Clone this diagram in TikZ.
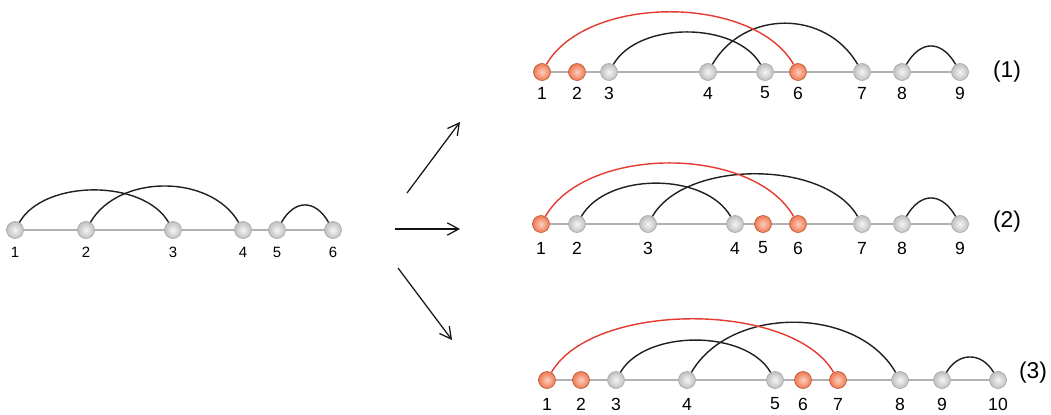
\documentclass[tikz,border=0pt]{standalone}
\usepackage{fontspec}
\setmainfont{Liberation Sans}
\usetikzlibrary{arrows.meta}
\definecolor{hot}{RGB}{240,120,78}
\definecolor{hotarc}{RGB}{228,58,48}
\tikzset{
  site/.style={circle,inner sep=0pt,minimum size=0.34cm,shading=radial,inner color=gray!8,outer color=gray!50,draw=gray!70,line width=0.35pt},
  hotsite/.style={site,inner color=hot!35!white,outer color=hot,draw=hot!75!black},
  spine/.style={gray!60,line width=0.75pt},
  bond/.style={gray!25!black,line width=0.8pt,out=60,in=120,looseness=#1},
  hotbond/.style={bond=#1,draw=hotarc},
  num/.style={inner sep=0pt,font=\fontsize{10}{12}\selectfont},
  tag/.style={inner sep=0pt,font=\fontsize{13}{15}\selectfont},
}

\begin{document}
\begin{tikzpicture}[x=0.02cm,y=0.02cm,>={Straight Barb[length=6.5pt,width=7pt]}]
  \useasboundingbox (0,0) rectangle (1051,414);
  % original structure
  \foreach \x [count=\i] in {15,86,173,243,277,333}{
    \node[site] (l\i) at (\x,184) {};
    \node[num,font=\fontsize{8.5}{10}\selectfont] (l\i n) at (\x,162) {\i};
  }
  \foreach \i/\j in {1/2,2/3,3/4,4/5,5/6} \draw[spine] (l\i) -- (l\j);
  \draw[bond=0.86] (l1) to (l3);
  \draw[bond=0.97] (l2) to (l4);
  \draw[bond=1.46] (l5) to (l6);

  \coordinate (s1) at (407,221); \coordinate (t1) at (460,292);
  \coordinate (s2) at (395,185); \coordinate (t2) at (460,185);
  \coordinate (s3) at (398,146); \coordinate (t3) at (452,74);
  \foreach \k in {1,2,3} \draw[->,line width=0.7pt,gray!15!black] (s\k) -- (t\k);

  % (1)
  \foreach \x/\s [count=\i] in {542/hotsite,577/hotsite,609/site,708/site,765/site,798/hotsite,862/site,902/site,960/site}{
    \node[\s] (a\i) at (\x,342) {};
    \node[num] (a\i n) at (\x,321) {\i};
  }
  \foreach \i/\j in {1/2,2/3,3/4,4/5,5/6,6/7,7/8,8/9} \draw[spine] (a\i) -- (a\j);
  \draw[bond=0.87] (a3) to (a5);
  \draw[bond=1.12] (a4) to (a7);
  \draw[bond=1.48] (a8) to (a9);
  \draw[hotbond=0.84] (a1) to (a6);
  \node[tag] (ta) at (1007,342) {(1)};

  % (2)
  \foreach \x/\s [count=\i] in {541/hotsite,577/site,648/site,735/site,763/hotsite,798/hotsite,862/site,902/site,960/site}{
    \node[\s] (b\i) at (\x,190) {};
    \node[num] (b\i n) at (\x,166) {\i};
  }
  \foreach \i/\j in {1/2,2/3,3/4,4/5,5/6,6/7,7/8,8/9} \draw[spine] (b\i) -- (b\j);
  \draw[bond=0.88] (b2) to (b4);
  \draw[bond=0.82] (b3) to (b7);
  \draw[bond=1.48] (b8) to (b9);
  \draw[hotbond=0.85] (b1) to (b6);
  \node[tag] (tb) at (1007,192) {(2)};

  % (3)
  \foreach \x/\s [count=\i] in {547/hotsite,581/hotsite,616/site,687/site,775/site,803/hotsite,838/hotsite,900/site,942/site,998/site}{
    \node[\s] (c\i) at (\x,34) {};
    \node[num] (c\i n) at (\x,10) {\i};
  }
  \foreach \i/\j in {1/2,2/3,3/4,4/5,5/6,6/7,7/8,8/9,9/10} \draw[spine] (c\i) -- (c\j);
  \draw[bond=0.85] (c3) to (c5);
  \draw[bond=0.97] (c4) to (c8);
  \draw[bond=1.29] (c9) to (c10);
  \draw[hotbond=0.75] (c1) to (c7);
  \node[tag] (tc) at (1033,41) {(3)};
\end{tikzpicture}
\end{document}
